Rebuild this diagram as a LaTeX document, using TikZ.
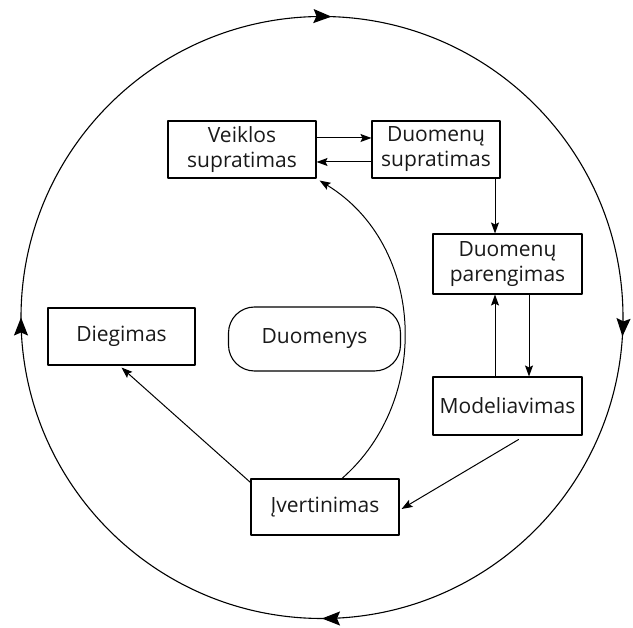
\documentclass[tikz,border=0pt]{standalone}
\usepackage{fontspec}
\setmainfont{Open Sans}
\usetikzlibrary{arrows.meta,decorations.markings}

\tikzset{
  etapas/.style={draw,line width=1.1pt,align=center,inner sep=0pt,minimum height=57pt},
  rodykle/.style={-{Stealth[length=11pt,width=8pt,inset=2pt]},line width=1pt},
  ratas/.style={line width=1.1pt,postaction={decorate},decoration={markings,
    mark=at position 0.01 with {\arrow{Stealth[length=18pt,width=14pt,inset=3pt]}},
    mark=at position 0.25 with {\arrow{Stealth[length=18pt,width=14pt,inset=3pt]}},
    mark=at position 0.5 with {\arrow{Stealth[length=18pt,width=14pt,inset=3pt]}},
    mark=at position 0.755 with {\arrow{Stealth[length=18pt,width=14pt,inset=3pt]}}}},
}

\begin{document}
\begin{tikzpicture}[x=1pt,y=-1pt,font=\fontsize{21}{25}\selectfont,line cap=round,line join=round,text=black!90]
\useasboundingbox (0,0) rectangle (633,628);
% ciklas aplink
\coordinate (centras) at (322,317.5);
\draw[ratas] (centras) ++(301,0) arc[start angle=0,end angle=360,radius=301];
% etapai
\node[etapas,minimum width=148pt] (veikla) at (242,149.5) {Veiklos\\supratimas};
\node[etapas,minimum width=128pt] (supratimas) at (436,149.5) {Duomenų\\supratimas};
\node[etapas,minimum width=149pt,minimum height=60pt] (parengimas) at (507.5,264) {Duomenų\\parengimas};
\node[etapas,minimum width=149pt,minimum height=58pt] (modelis) at (507.5,406) {Modeliavimas};
\node[etapas,minimum width=148pt,minimum height=56pt] (vertinimas) at (325,507) {Įvertinimas};
\node[etapas,minimum width=147pt] (diegimas) at (121.5,336.5) {Diegimas};
\node[etapas,minimum width=172pt,minimum height=64pt,rounded corners=26pt] (duomenys) at (314.5,339) {Duomenys};
% rodykles
\draw[rodykle] ([yshift=11.5pt]veikla.east) -- ([yshift=11.5pt]supratimas.west);
\draw[rodykle] ([yshift=-12.5pt]supratimas.west) -- ([yshift=-12.5pt]veikla.east);
\draw[rodykle] ([xshift=59pt]supratimas.south) -- ([xshift=-12.5pt]parengimas.north);
\draw[rodykle] ([xshift=21.5pt]parengimas.south) -- ([xshift=21.5pt]modelis.north);
\draw[rodykle] ([xshift=-12.5pt]modelis.north) -- ([xshift=-12.5pt]parengimas.south);
\draw[rodykle] ([xshift=11pt,yshift=-4pt]modelis.south) -- ([xshift=2pt,yshift=-2pt]vertinimas.east);
\draw[rodykle] ([yshift=-4pt]vertinimas.north west) -- ([yshift=-2pt]diegimas.south);
\draw[rodykle] ([xshift=17pt]vertinimas.north) .. controls (432,400) and (425,245) .. ([xshift=3pt,yshift=-2pt]veikla.south east);
\end{tikzpicture}
\end{document}
